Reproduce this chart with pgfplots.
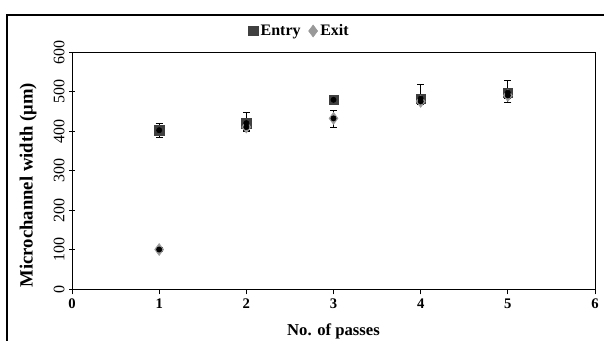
\documentclass[border=0pt]{standalone}
\usepackage{fontspec}
\setmainfont{Liberation Serif}
\usepackage{pgfplots}
\pgfplotsset{compat=1.18}
\usepackage{pgfplotstable}
\definecolor{entryc}{HTML}{404040}
\definecolor{exitc}{HTML}{999999}
\pgfplotstableread{
x y ep em
1 402 18 18
2 420 27 20
3 479 12 12
4 482 36 12
5 497 30 24
}\entry
\pgfplotstableread{
x y ep em
1 100 5 5
2 410 8 8
3 432 21 22
4 475 8 8
5 490 8 8
}\exit
\begin{document}
\begin{tikzpicture}[x=1pt,y=1pt]
\useasboundingbox (0,0) rectangle (453,255);
\draw[line width=0.8pt] (5.25,-5) -- (5.25,243.75) -- (460,243.75);
\begin{axis}[
  at={(54pt,38.25pt)}, anchor=south west,
  scale only axis, width=392.25pt, height=177.75pt,
  xmin=0, xmax=6, ymin=0, ymax=600,
  xtick={0,1,...,6}, ytick={0,100,...,600},
  axis line style={line width=0.7pt},
  tick style={black, line width=0.7pt},
  major tick length=4pt,
  xtick align=outside, ytick align=center,
  xtick pos=bottom, ytick pos=left,
  /pgf/number format/assume math mode=true,
  xticklabel style={font=\fontsize{11}{12}\selectfont\bfseries},
  yticklabel style={font=\fontsize{12}{13}\selectfont, rotate=90, anchor=south},
  xlabel={No. of passes},
  ylabel={Microchannel width (μm)},
  xlabel style={font=\fontsize{12.5}{14}\selectfont\bfseries, yshift=-4pt},
  ylabel style={font=\fontsize{14}{16}\selectfont\bfseries, yshift=6pt, xshift=-11pt},
  legend columns=2,
  legend style={draw=none, fill=none, at={(0.436,1.0886)}, anchor=center,
    font=\fontsize{12}{13}\selectfont\bfseries,
    /tikz/every even column/.append style={column sep=4pt}},
  legend image code/.code={\draw[#1] plot coordinates {(0pt,0pt)};},
  legend cell align=left,
]
\addplot[only marks, mark=square*, mark size=3.5pt, color=entryc, mark options={fill=entryc, draw=entryc}] table[x=x,y=y] {\entry};
\addlegendentry{Entry}
\addplot[only marks, mark=diamond*, mark size=4.5pt, color=exitc, mark options={fill=exitc, draw=exitc}] table[x=x,y=y] {\exit};
\addlegendentry{Exit}
\addplot[only marks, mark=none, forget plot,
  error bars/.cd, y dir=both, y explicit,
  error bar style={draw=black, line width=0.8pt},
  error mark options={draw=black, mark size=2.6pt, line width=0.8pt, rotate=90}]
  table[x=x,y=y,y error plus=ep,y error minus=em] {\entry};
\addplot[only marks, mark=none, forget plot,
  error bars/.cd, y dir=both, y explicit,
  error bar style={draw=black, line width=0.8pt},
  error mark options={draw=black, mark size=2.6pt, line width=0.8pt, rotate=90}]
  table[x=x,y=y,y error plus=ep,y error minus=em] {\exit};
\end{axis}
\end{tikzpicture}
\end{document}
